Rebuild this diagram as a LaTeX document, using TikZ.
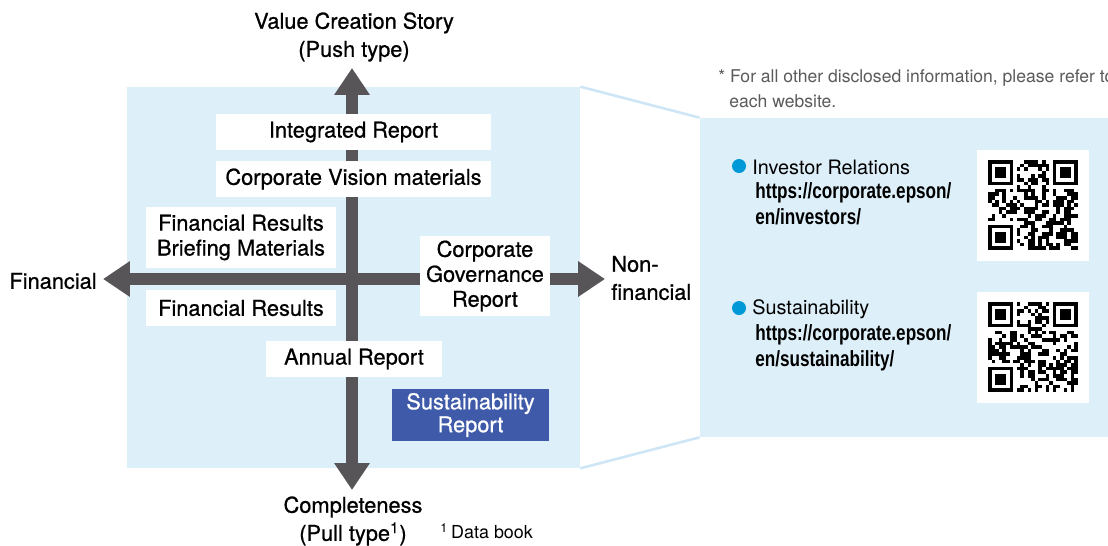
\documentclass[tikz,border=0pt]{standalone}
\usepackage{fontspec}
\setmainfont{TeX Gyre Heros}
\newfontfamily\medfont[FakeBold=0.7]{TeX Gyre Heros}
\newfontfamily\urlfont[FakeStretch=0.78]{Liberation Sans}
\usetikzlibrary{arrows.meta}
\definecolor{panelblue}{HTML}{DDEFF9}
\definecolor{linkblue}{HTML}{CFE6F6}
\definecolor{axisgray}{HTML}{575557}
\definecolor{sustblue}{HTML}{3F5AA8}
\definecolor{dotblue}{HTML}{0099D8}
\definecolor{notegray}{HTML}{5A5A5A}
\newcommand{\qrblock}[3]{% x, y, seed
  \begin{scope}[shift={(#1,#2)}]
    \pgfmathsetseed{#3}
    \foreach \i in {0,...,24}
      \foreach \j in {0,...,24} {
        \pgfmathparse{((\i<8 && \j<8) || (\i>16 && \j<8) || (\i<8 && \j>16)) ? 0 : random(0,1)}
        \ifnum\pgfmathresult=1 \fill (\i*3.6,\j*3.6) rectangle ++(3.6,3.6); \fi
      }
    \foreach \a/\b in {0/0,64.8/0,0/64.8} {
      \fill (\a,\b) rectangle ++(25.2,25.2);
      \fill[white] (\a+3.6,\b+3.6) rectangle ++(18,18);
      \fill (\a+7.2,\b+7.2) rectangle ++(10.8,10.8);
    }
  \end{scope}}

\begin{document}
\begin{tikzpicture}[x=0.02cm,y=-0.02cm,
  report/.style={fill=white,inner sep=0pt,align=center,
    font=\medfont\fontsize{12.4}{14.2}\selectfont},
  axis/.style={line width=0.24cm,draw=axisgray,
    {Triangle[width=0.68cm,length=0.54cm]}-{Triangle[width=0.68cm,length=0.54cm]}},
  label/.style={align=center,inner sep=0pt,font=\medfont\fontsize{12.4}{16}\selectfont},
  linkline/.style={draw=linkblue,line width=1.5pt},
  dot/.style={circle,fill=dotblue,inner sep=0pt,minimum size=0.28cm}]
\useasboundingbox (0,0) rectangle (1108,545);
\node[fill=panelblue,minimum width=9.06cm,minimum height=7.62cm,inner sep=0pt] (leftpanel) at (353.5,277.5) {}; %panels
\node[fill=panelblue,minimum width=8.16cm,minimum height=6.38cm,inner sep=0pt] (rightpanel) at (904,277.5) {};
\draw[linkline] (leftpanel.north east) -- (rightpanel.north west);
\draw[linkline] (leftpanel.south east) -- (rightpanel.south west);
\coordinate (ntip) at (352,68); %axes
\coordinate (stip) at (352,490);
\coordinate (wtip) at (103,279);
\coordinate (etip) at (605,279);
\draw[axis] (wtip) -- (etip);
\draw[axis] (stip) -- (ntip);
\node[label] (vtitle) at (354,37) {Value Creation Story\\(Push type)}; %axis labels
\node[label] (vbottom) at (353,521) {Completeness\\(Pull type\textsuperscript{1})};
\node[label,anchor=east] (finlabel) at (97,281) {Financial};
\node[label,anchor=west,align=left] (nonfin) at (611,278) {Non-\\financial};
\node[anchor=west,inner sep=0pt,font=\fontsize{10.2}{12}\selectfont] (databook) at (440,531) {\textsuperscript{1}\,Data book};
\node[report,minimum width=5.5cm,minimum height=0.72cm] (intrep) at (353.5,132) {\raisebox{-1pt}{Integrated Report}}; %reports
\node[report,minimum width=5.5cm,minimum height=0.72cm] (vision) at (353.5,179) {\raisebox{-1pt}{Corporate Vision materials}};
\node[report,minimum width=3.8cm,minimum height=1.22cm] (briefing) at (241,237.5) {Financial Results\\Briefing Materials};
\node[report,minimum width=3.8cm,minimum height=0.72cm] (finres) at (241,308) {\raisebox{-1pt}{Financial Results}};
\node[report,minimum width=2.6cm,minimum height=1.6cm] (cgr) at (485,276) {Corporate\\Governance\\Report};
\node[report,minimum width=3.52cm,minimum height=0.72cm] (annual) at (354,359) {\raisebox{-1pt}{Annual Report}};
\node[report,fill=sustblue,text=white,minimum width=3.14cm,minimum height=1.04cm,
  font=\medfont\fontsize{12.4}{13}\selectfont] (sust) at (470.5,415) {Sustainability\\Report};
\node[anchor=west,inner sep=0pt,text=notegray,font=\fontsize{10}{11}\selectfont] (note1) at (718,78) {* For all other disclosed information, please refer to}; %note
\node[anchor=west,inner sep=0pt,text=notegray,font=\fontsize{10}{11}\selectfont] (note2) at (729,101) {each website.};
\node[dot] (irdot) at (739,166) {}; %links
\node[anchor=west,inner sep=0pt,font=\fontsize{11.3}{13}\selectfont] (irname) at (752,167) {Investor Relations};
\node[anchor=north west,inner sep=0pt,align=left,font=\urlfont\bfseries\fontsize{12.5}{14.7}\selectfont] (irurl) at (755,182) {https://corporate.epson/\\en/investors/};
\node[dot] (sudot) at (739,308) {};
\node[anchor=west,inner sep=0pt,font=\fontsize{11.3}{13}\selectfont] (suname) at (752,309) {Sustainability};
\node[anchor=north west,inner sep=0pt,align=left,font=\urlfont\bfseries\fontsize{12.5}{14.7}\selectfont] (suurl) at (755,324) {https://corporate.epson/\\en/sustainability/};
\fill[white] (977,150) rectangle (1089,261); %qr codes
\fill[white] (977,292) rectangle (1089,403);
\qrblock{988}{160}{11}
\qrblock{988}{302}{29}
\end{tikzpicture}
\end{document}
